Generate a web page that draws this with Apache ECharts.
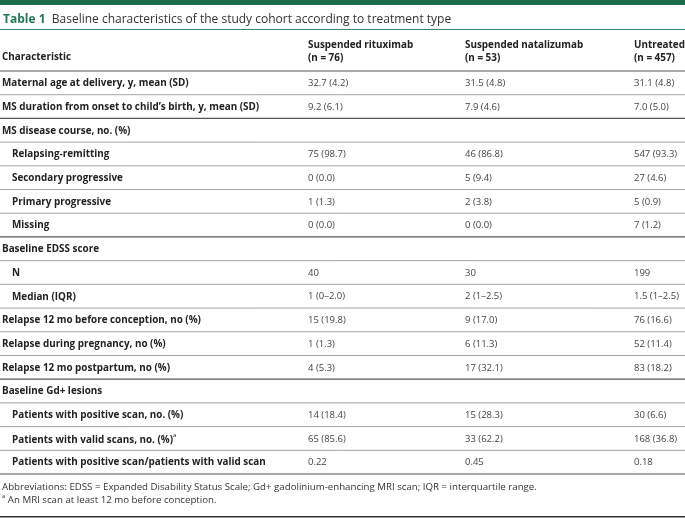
<!DOCTYPE html>
<html><head><meta charset="utf-8">
<script src="https://cdn.jsdelivr.net/npm/echarts@6/dist/echarts.min.js"></script>
<style>html,body{margin:0;padding:0;background:#fff}#c{width:685px;height:518px}</style>
</head><body><div id="c"></div>
<script>
// ---------- DATA ----------
const tableLabel = 'Table 1';
const tableTitle = 'Baseline characteristics of the study cohort according to treatment type';
const headerLabel = 'Characteristic';
const groupNames = ['Suspended rituximab', 'Suspended natalizumab', 'Untreated'];
const groupSizes = ['(n = 76)', '(n = 53)', '(n = 457)'];
const rowLabels = [
  'Maternal age at delivery, y, mean (SD)',
  'MS duration from onset to child\u2019s birth, y, mean (SD)',
  'MS disease course, no. (%)',
  'Relapsing-remitting',
  'Secondary progressive',
  'Primary progressive',
  'Missing',
  'Baseline EDSS score',
  'N',
  'Median (IQR)',
  'Relapse 12 mo before conception, no (%)',
  'Relapse during pregnancy, no (%)',
  'Relapse 12 mo postpartum, no (%)',
  'Baseline Gd+ lesions',
  'Patients with positive scan, no. (%)',
  'Patients with valid scans, no. (%)',
  'Patients with positive scan/patients with valid scan'
];
const rowIsSub = [0,0,0,1,1,1,1,0,1,1,0,0,0,0,1,1,1];
const rowNoteMark = ['','','','','','','','','','','','','','','','a',''];
const rituximab = ['32.7 (4.2)','9.2 (6.1)','','75 (98.7)','0 (0.0)','1 (1.3)','0 (0.0)','','40','1 (0\u20132.0)','15 (19.8)','1 (1.3)','4 (5.3)','','14 (18.4)','65 (85.6)','0.22'];
const natalizumab = ['31.5 (4.8)','7.9 (4.6)','','46 (86.8)','5 (9.4)','2 (3.8)','0 (0.0)','','30','2 (1\u20132.5)','9 (17.0)','6 (11.3)','17 (32.1)','','15 (28.3)','33 (62.2)','0.45'];
const untreated = ['31.1 (4.8)','7.0 (5.0)','','547 (93.3)','27 (4.6)','5 (0.9)','7 (1.2)','','199','1.5 (1\u20132.5)','76 (16.6)','52 (11.4)','83 (18.2)','','30 (6.6)','168 (36.8)','0.18'];
const abbreviations = 'Abbreviations: EDSS = Expanded Disability Status Scale; Gd+ gadolinium-enhancing MRI scan; IQR = interquartile range.';
const footnoteMark = 'a';
const footnoteText = ' An MRI scan at least 12 mo before conception.';

// ---------- LAYOUT / STYLE ----------
const W = 685, H = 518;
const FONT = '"Open Sans", "Noto Sans", sans-serif';
const GREEN = '#1c6b4b';
const TXT = '#222';
const VAL = '#444';
const LIGHT = '#a3a3a3';
const DARK = '#555';
const LBL_SIZE = 9.9;
const colX = [308, 465, 634];
const strongAfter = new Set([1, 6, 12, 16]);
const valueCols = [rituximab, natalizumab, untreated];

const chart = echarts.init(document.getElementById('c'), null, {renderer: 'canvas', width: W, height: H});

const labelRich = {
  b: {fontFamily: FONT, fontSize: LBL_SIZE, fontWeight: 'bold', fill: TXT, lineHeight: 13, verticalAlign: 'bottom'},
  s: {fontFamily: FONT, fontSize: 6, fontWeight: 'normal', fill: TXT, lineHeight: 13, verticalAlign: 'top'}
};

function renderRow(params, api) {
  const i = api.value(1);
  const c = api.coord([0, i]);
  const h = api.size([0, 1])[1];
  const yMid = c[1];
  const yBot = yMid + h / 2;
  const children = [];
  const labelText = rowNoteMark[i] ? '{b|' + rowLabels[i] + '}{s|' + rowNoteMark[i] + '}' : rowLabels[i];
  const labelStyle = {text: labelText, fontFamily: FONT, fontSize: LBL_SIZE, fontWeight: 'bold', fill: TXT,
                      align: 'left', verticalAlign: 'middle'};
  if (rowNoteMark[i]) labelStyle.rich = labelRich;
  children.push({type: 'text', x: rowIsSub[i] ? 12 : 2, y: yMid + 0.5, style: labelStyle});
  valueCols.forEach((col, k) => {
    if (col[i]) children.push({
      type: 'text', x: colX[k], y: yMid + 0.5,
      style: {text: col[i], fontFamily: FONT, fontSize: 9.5, fontWeight: 'normal', fill: VAL, align: 'left', verticalAlign: 'middle'}
    });
  });
  const strong = strongAfter.has(i);
  children.push({
    type: 'line', shape: {x1: 0, y1: yBot, x2: W, y2: yBot},
    style: {stroke: strong ? DARK : LIGHT, lineWidth: strong ? 1.2 : 1}
  });
  if (i === 0) {
    const yTop = yMid - h / 2;
    children.push({type: 'line', shape: {x1: 0, y1: yTop, x2: W, y2: yTop}, style: {stroke: DARK, lineWidth: 1.2}});
  }
  return {type: 'group', children};
}

const graphics = [
  {type: 'rect', left: 0, top: 0, shape: {width: W, height: 5}, style: {fill: GREEN}},
  {type: 'text', left: 3, top: 14,
   style: {text: '{t|' + tableLabel + '}{n|  ' + tableTitle + '}',
     rich: {t: {fontFamily: FONT, fontSize: 12, fontWeight: 'bold', fill: '#1f7a52'},
            n: {fontFamily: FONT, fontSize: 12, fontWeight: 'normal', fill: '#333'}}}},
  {type: 'rect', left: 0, top: 29, shape: {width: W, height: 1}, style: {fill: '#3d8a66'}},
  {type: 'text', x: 2, y: 57, style: {text: headerLabel, fontFamily: FONT, fontSize: LBL_SIZE, fontWeight: 'bold', fill: TXT, verticalAlign: 'middle'}},
  {type: 'rect', left: 0, top: 516, shape: {width: W, height: 1.5}, style: {fill: '#333'}},
  {type: 'text', x: 2, y: 487, style: {text: abbreviations, fontFamily: FONT, fontSize: 9.7, fill: '#333', verticalAlign: 'middle'}},
  {type: 'text', x: 2, y: 499, style: {text: '{s|' + footnoteMark + '}{n|' + footnoteText + '}', verticalAlign: 'middle',
     rich: {s: {fontFamily: FONT, fontSize: 6, fill: '#333', lineHeight: 12, verticalAlign: 'top'},
            n: {fontFamily: FONT, fontSize: 9.7, fill: '#333', lineHeight: 12, verticalAlign: 'bottom'}}}}
];
groupNames.forEach((g, k) => {
  graphics.push({type: 'text', x: colX[k], y: 45, style: {text: g, fontFamily: FONT, fontSize: LBL_SIZE, fontWeight: 'bold', fill: TXT, verticalAlign: 'middle'}});
  graphics.push({type: 'text', x: colX[k], y: 58, style: {text: groupSizes[k], fontFamily: FONT, fontSize: LBL_SIZE, fontWeight: 'bold', fill: TXT, verticalAlign: 'middle'}});
});

chart.setOption({
  animation: false,
  grid: {left: 0, right: 0, top: 71, bottom: 44},
  xAxis: {type: 'value', min: 0, max: 1, show: false},
  yAxis: {type: 'category', data: rowLabels, inverse: true, show: false},
  graphic: graphics,
  series: [{
    type: 'custom',
    renderItem: renderRow,
    data: rowLabels.map((_, i) => [0, i]),
    clip: false,
    silent: true
  }]
});
</script></body></html>
